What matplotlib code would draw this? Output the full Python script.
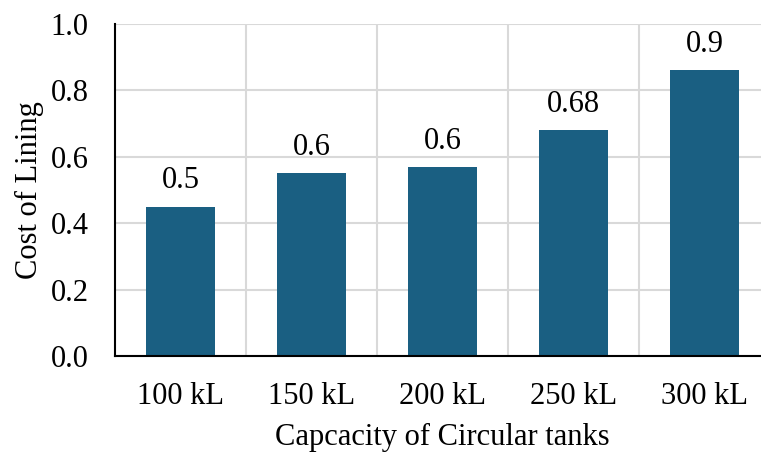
import matplotlib
matplotlib.use("Agg")
import matplotlib.pyplot as plt
import numpy as np

categories = ["100 kL", "150 kL", "200 kL", "250 kL", "300 kL"]
values = [0.45, 0.55, 0.57, 0.68, 0.86]
labels = ["0.5", "0.6", "0.6", "0.68", "0.9"]

plt.rcParams['font.family'] = ['Liberation Serif', 'DejaVu Serif']
FS = 22

W, H = 761, 453
fig = plt.figure(figsize=(W/100, H/100), dpi=100)
left, right, top, bottom = 115, 770, 24, 356
ax = fig.add_axes([left/W, 1 - bottom/H, (right-left)/W, (bottom-top)/H])

x = np.arange(len(categories))
bars = ax.bar(x, values, width=0.53, color="#1a5f82", zorder=3)
for xi, v, lab in zip(x, values, labels):
    ax.annotate(lab, (xi, v), xytext=(0, 8), textcoords="offset points",
                ha="center", va="bottom", fontsize=FS)

ax.set_xlim(-0.5, len(categories) - 0.5)
ax.set_ylim(0, 1.0)
ax.set_yticks(np.arange(0, 1.01, 0.2))
ax.set_yticklabels([f"{t:.1f}" for t in np.arange(0, 1.01, 0.2)], fontsize=FS)
ax.set_xticks(x)
ax.set_xticklabels(categories, fontsize=FS)
ax.set_xticks(np.arange(0.5, len(categories), 1), minor=True)
ax.tick_params(axis="both", which="both", length=0)
ax.tick_params(axis="x", pad=19)
ax.tick_params(axis="y", pad=19)
ax.grid(True, axis="y", color="#d9d9d9", linewidth=1.5, zorder=0)
ax.grid(True, axis="x", which="minor", color="#d9d9d9", linewidth=1.5, zorder=0)
ax.grid(False, axis="x", which="major")
for s in ["top", "right"]:
    ax.spines[s].set_visible(False)
ax.spines["left"].set_linewidth(1.5)
ax.spines["bottom"].set_linewidth(1.5)
ax.spines["left"].set_zorder(4)
ax.spines["bottom"].set_zorder(4)
ax.set_xlabel("Capcacity of Circular tanks", fontsize=FS, labelpad=8)
ax.set_ylabel("Cost of Lining", fontsize=FS, labelpad=5)

fig.savefig("out.png", dpi=100)
